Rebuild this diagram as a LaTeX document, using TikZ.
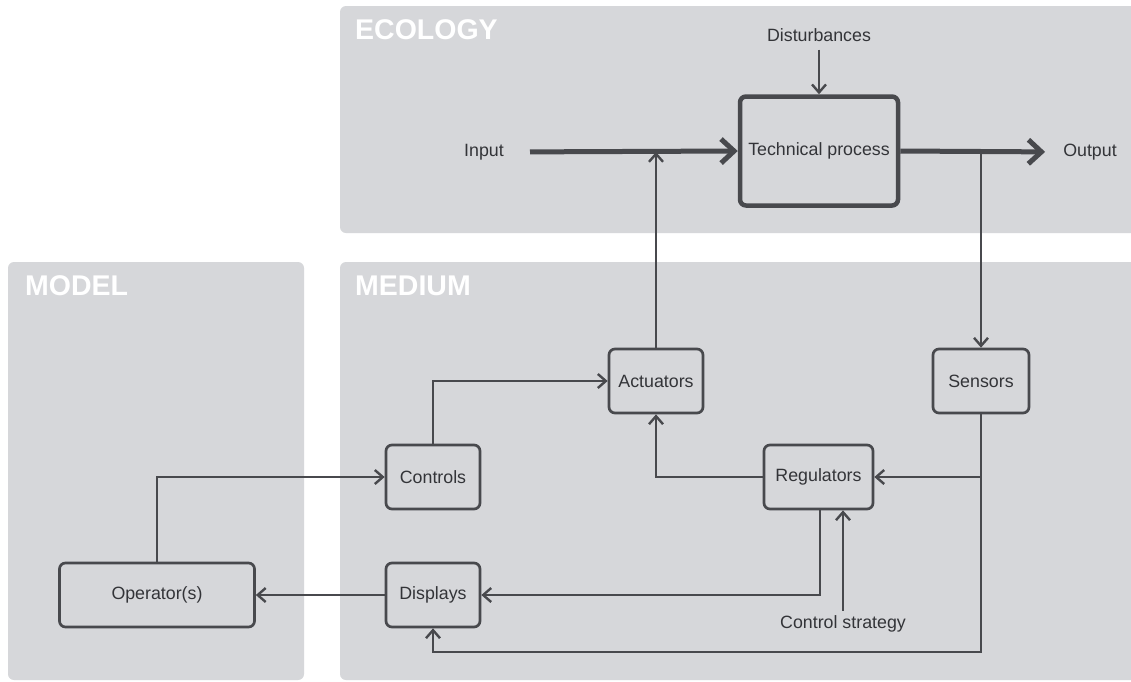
\documentclass[tikz,border=0pt]{standalone}
\usepackage{fontspec}
\setmainfont{Liberation Sans}
\usetikzlibrary{arrows.meta}
\definecolor{panelgray}{HTML}{D6D7DA}
\definecolor{ink}{HTML}{48494D}
\definecolor{txt}{HTML}{333438}
\begin{document}
\begin{tikzpicture}[x=1pt,y=-1pt,
  panel/.style={fill=panelgray,draw=none,rounded corners=6pt},
  paneltitle/.style={anchor=west,text=white,font=\fontsize{28.5}{30}\selectfont\bfseries,inner sep=0pt},
  box/.style={draw=ink,line width=2.7pt,rounded corners=6pt,minimum height=64pt,
    text=txt,font=\fontsize{17.8}{20}\selectfont,inner sep=0pt},
  lbl/.style={text=txt,font=\fontsize{17.8}{20}\selectfont,inner sep=0pt},
  arr/.style={draw=ink,line width=2.4pt,-{Straight Barb[length=8pt,width=14pt]}},
  bigarr/.style={draw=ink,line width=5pt,-{Straight Barb[length=13pt,width=24pt]}},
]
\clip (0,0) rectangle (1131,681);
\fill[white] (0,0) rectangle (1131,681);

% background panels
\path[panel] (340,6) rectangle (1140,233);
\path[panel] (8,262) rectangle (304,680);
\path[panel] (340,262) rectangle (1140,680);
\node[paneltitle] at (355,30) {ECOLOGY};
\node[paneltitle] at (25,286) {MODEL};
\node[paneltitle] at (355,286) {MEDIUM};

% process
\node[box,line width=4.5pt,minimum width=158pt,minimum height=109pt] (tp) at (819,151) {Technical process};
\node[lbl] (inp) at (484,152) {Input};
\node[lbl] (outp) at (1090,152) {Output};
\node[lbl] (dist) at (819,35) {Disturbances};

% medium blocks
\node[box,minimum width=94pt] (act) at (656,381) {Actuators};
\node[box,minimum width=94pt] (ctl) at (433,477) {Controls};
\node[box,minimum width=109pt] (reg) at (818.5,477) {Regulators};
\node[box,minimum width=96pt] (sen) at (981,381) {Sensors};
\node[box,minimum width=94pt] (disp) at (433,595) {Displays};
\node[box,minimum width=195pt] (op) at (157,595) {Operator(s)};
\node[lbl] (cs) at (843,624) {Control strategy};

% main process flow
\draw[bigarr,shorten <=26pt] (inp.east) -- (tp.west);
\draw[bigarr,shorten >=18pt] (tp.east) -- (outp.west);
\draw[arr,shorten <=8pt] (dist.south) -- (tp.north);

% feedback loop
\coordinate (tap) at (sen.north |- tp.east);
\draw[arr] (tap) -- (sen.north);
\draw[arr] (act.north) -- (act.north |- inp.east);
\draw[arr] (ctl.north) |- (act.west);
\draw[arr] (reg.west) -| (act.south);
\coordinate (sbot) at (981,652);
\draw[arr] (sen.south) -- (sbot) -| (disp.south);
\draw[arr] (sen.south |- reg.east) -- (reg.east);
\draw[arr] ([xshift=1.5pt]reg.south) |- (disp.east);
\draw[arr,shorten <=5pt] (cs.north) -- (cs.north |- reg.south);
\draw[arr] (disp.west) -- (op.east);
\draw[arr] (op.north) |- (ctl.west);
\end{tikzpicture}
\end{document}
